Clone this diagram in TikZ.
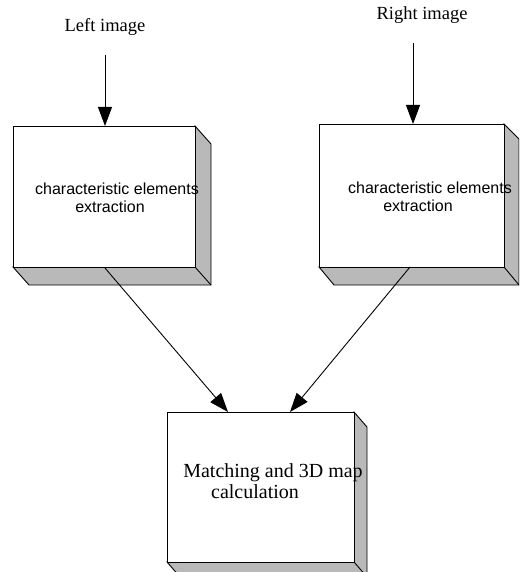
\documentclass[tikz,border=0pt]{standalone}
\usepackage{fontspec}
\setmainfont{Liberation Serif}
\newfontfamily\arialf{Liberation Sans}
\usetikzlibrary{arrows.meta,patterns}
\tikzset{
  face/.style={draw, line width=0.9pt, fill=white, anchor=north west, inner sep=0pt},
  shade3d/.style={draw, line width=0.9pt, fill=gray!55},
  serifl/.style={font=\fontsize{18.5}{22}\selectfont, inner sep=0pt},
  sansl/.style={font=\arialf\fontsize{16}{18}\selectfont, inner sep=0pt},
  serifb/.style={font=\fontsize{20}{22}\selectfont, inner sep=0pt},
  arr/.style={line width=0.9pt, -{Triangle[length=19pt,width=14pt]}},
}
\begin{document}
\begin{tikzpicture}[x=1pt,y=-1pt]
\useasboundingbox (0,0) rectangle (519,572);
\clip (0,0) rectangle (519,572);
% left box
\fill[shade3d] (195,126) -- (211,144) -- (211,285) -- (29,285) -- (13,267) -- (195,267) -- cycle;
\draw[line width=0.9pt] (195,267) -- (211,285);
\node[face, minimum width=182pt, minimum height=141pt] (lb) at (13,126) {};
% right box
\fill[shade3d] (504,124) -- (519,139) -- (519,285) -- (334,285) -- (319,267) -- (504,267) -- cycle;
\draw[line width=0.9pt] (504,267) -- (519,285);
\node[face, minimum width=185pt, minimum height=143pt] (rb) at (319,124) {};
% bottom box
\fill[shade3d] (354,412) -- (367,427) -- (367,577) -- (180,577) -- (167,562) -- (354,562) -- cycle;
\draw[line width=0.9pt] (354,562) -- (367,577);
\node[face, minimum width=187pt, minimum height=150pt] (bb) at (167,412) {};
% texts
\node[serifl] (li) at (105,27) {Left image};
\node[serifl] (ri) at (422,15) {Right image};
\node[sansl] (lt1) at (117,189) {characteristic elements};
\node[sansl] (lt2) at (110,207) {extraction};
\node[sansl] (rt1) at (430,188) {characteristic elements};
\node[sansl] (rt2) at (418,206) {extraction};
\node[serifb] (bt1) at (273,473) {Matching and 3D map};
\node[serifb] (bt2) at (255,492) {calculation};
% connectors
\coordinate (ls) at (105,55);
\coordinate (rs) at (413,43);
\coordinate (ld) at (105,268);
\coordinate (rd) at (410,267);
\coordinate (bl) at ([xshift=61pt]bb.north west);
\coordinate (br) at ([xshift=123pt]bb.north west);
\draw[arr] (ls) -- (lb.north west -| ls);
\draw[arr] (rs) -- (rb.north west -| rs);
\draw[arr] (ld) -- (bl);
\draw[arr] (rd) -- (br);
\end{tikzpicture}
\end{document}
